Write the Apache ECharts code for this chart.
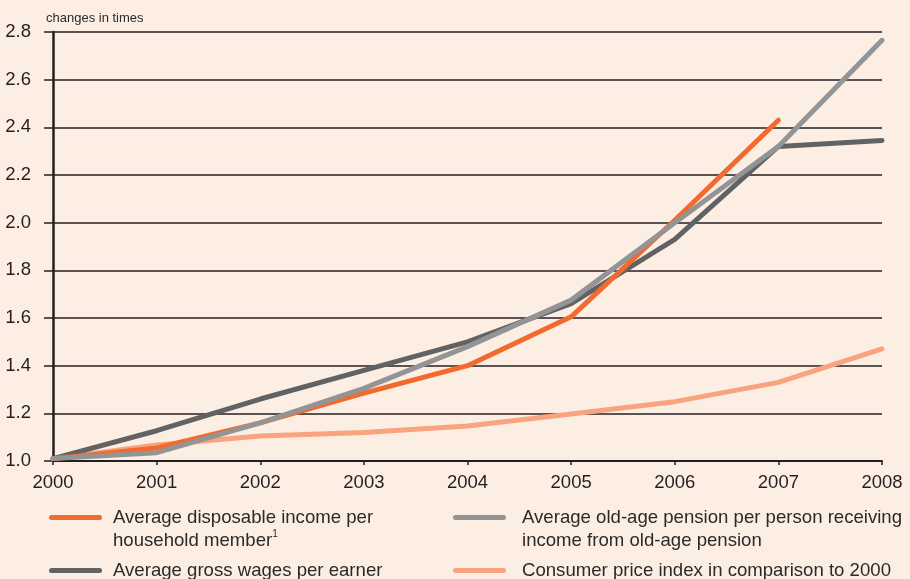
<!DOCTYPE html>
<html><head><meta charset="utf-8">
<script src="https://cdn.jsdelivr.net/npm/echarts@6/dist/echarts.min.js"></script>
<style>html,body{margin:0;padding:0;background:#fdeee3;}#c{width:910px;height:579px;}</style>
</head><body><div id="c"></div>
<script>
var years = ['2000','2001','2002','2003','2004','2005','2006','2007','2008'];
var disposableIncome = [1.01, 1.055, 1.16, 1.285, 1.40, 1.605, 2.01, 2.43, null];
var grossWages = [1.01, 1.127, 1.26, 1.38, 1.50, 1.66, 1.93, 2.32, 2.345];
var oldAgePension = [1.01, 1.035, 1.16, 1.305, 1.48, 1.675, 2.0, 2.32, 2.765];
var cpi = [1.01, 1.067, 1.105, 1.12, 1.147, 1.197, 1.249, 1.33, 1.47];
var yTicks = [1.0, 1.2, 1.4, 1.6, 1.8, 2.0, 2.2, 2.4, 2.6, 2.8];

var names = [
  'Average disposable income per household member',
  'Average gross wages per earner',
  'Average old-age pension per person receiving income from old-age pension',
  'Consumer price index in comparison to 2000'
];
var colors = ['#f26a2e', '#616264', '#939496', '#f8a47e'];
var datas = [disposableIncome, grossWages, oldAgePension, cpi];
var labels = {};
labels[names[0]] = ' \nAverage disposable income per\nhousehold member{sup|1}';
labels[names[1]] = 'Average gross wages per earner';
labels[names[2]] = ' \nAverage old-age pension per person receiving\nincome from old-age pension';
labels[names[3]] = 'Consumer price index in comparison to 2000';

var font = '"Liberation Sans", Arial, sans-serif';
var icon = 'path://M2.5,0 L50.5,0 A2.5,2.5 0 0 1 50.5,5 L2.5,5 A2.5,2.5 0 0 1 2.5,0 Z';
function mkLegend(name, left, top, pad) {
  return {
    data: [name], left: left, top: top, orient: 'vertical',
    icon: icon, itemWidth: 53, itemHeight: 5, itemGap: 0, padding: 0,
    formatter: function (n) { return labels[n]; },
    textStyle: {
      fontFamily: font, fontSize: 18.6, color: '#2b2a2a', lineHeight: 23, padding: [0, 0, 0, pad],
      rich: { sup: { fontSize: 10, verticalAlign: 'top', lineHeight: 23, padding: [0, 0, 9, 0], fontFamily: font, color: '#2b2a2a' } }
    },
    selectedMode: false
  };
}

var chart = echarts.init(document.getElementById('c'));
chart.setOption({
  backgroundColor: '#fdeee3',
  animation: false,
  grid: { left: 53, right: 28, top: 32, bottom: 118 },
  title: { text: 'changes in times', left: 41, top: 7, textStyle: { fontFamily: font, fontSize: 13, fontWeight: 'normal', color: '#2b2a2a' } },
  legend: [
    mkLegend(names[0], 49, 483, 6),
    mkLegend(names[1], 49, 559, 6),
    mkLegend(names[2], 453, 483, 11),
    mkLegend(names[3], 453, 559, 11)
  ],
  xAxis: {
    type: 'category', data: years, boundaryGap: false,
    axisLine: { lineStyle: { color: '#231f20', width: 2 } },
    axisTick: { show: true, length: 4, lineStyle: { color: '#231f20', width: 1.5 } },
    axisLabel: { fontFamily: font, fontSize: 18.5, color: '#231f20', margin: 12 },
    splitLine: { show: false }
  },
  yAxis: {
    type: 'value', min: 1.0, max: 2.8, interval: 0.2,
    axisLine: { show: true, lineStyle: { color: '#231f20', width: 2.5 } },
    axisTick: { show: true, length: 9, lineStyle: { color: '#231f20', width: 1.5 } },
    axisLabel: { fontFamily: font, fontSize: 18.5, color: '#231f20', margin: 22,
      formatter: function (v) { return v.toFixed(1); } },
    splitLine: { show: true, lineStyle: { color: '#231f20', width: 1.5 } }
  },
  series: names.map(function (n, i) {
    return {
      name: n, type: 'line', data: datas[i], symbol: 'none', smooth: false,
      lineStyle: { color: colors[i], width: 5, cap: 'round', join: 'round' },
      itemStyle: { color: colors[i] },
      z: [3, 2, 4, 1][i]
    };
  })
});
</script></body></html>
